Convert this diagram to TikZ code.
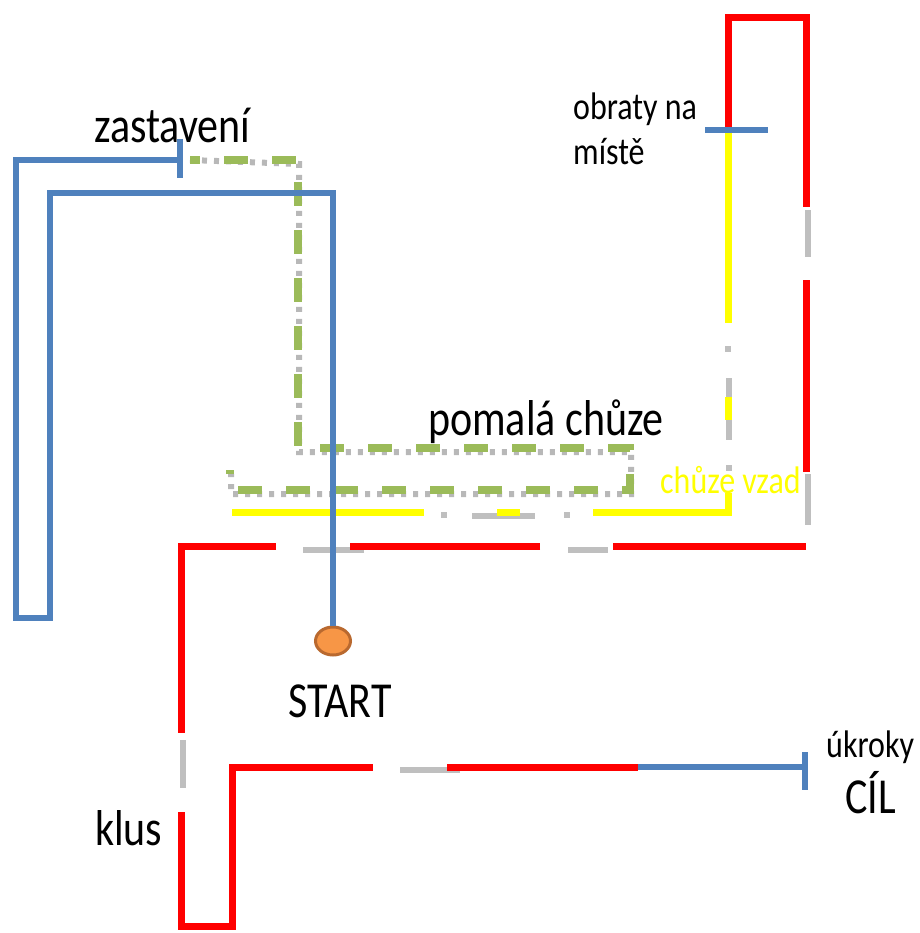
\documentclass[tikz,border=0pt]{standalone}
\usepackage{fontspec}
\setmainfont{Carlito}
\usepackage{graphicx}
\usetikzlibrary{shapes.geometric}
\definecolor{trasablue}{HTML}{4F81BD}
\definecolor{trasagreen}{HTML}{9BBB59}
\definecolor{trasared}{HTML}{FF0000}
\definecolor{trasayellow}{HTML}{FFFF00}
\definecolor{startorange}{HTML}{F79646}
\definecolor{startbrown}{HTML}{B9692F}
\newcommand{\velky}[1]{\scalebox{1}[1.2]{\fontsize{42}{48}\selectfont #1}}
\newcommand{\maly}[1]{\scalebox{1}[1.2]{\fontsize{32}{36}\selectfont #1}}
\tikzset{
	modra/.style={draw=trasablue, line width=6pt},
	cervena/.style={draw=trasared, line width=7pt},
	zluta/.style={draw=trasayellow, line width=7pt},
	zelena/.style={draw=trasagreen, line width=8pt, dash pattern=on 24pt off 24pt, dash phase=14pt},
	stin/.style={draw=black!25, line width=6pt},
	tecky/.style={draw=black!28, line width=6pt, dash pattern=on 5pt off 7pt},
	popis/.style={inner sep=0pt, anchor=base west},
}

\begin{document}
\begin{tikzpicture}[x=1pt, y=-1pt]
	\useasboundingbox (0,0) rectangle (919,933);

	\coordinate (zastT) at (180,160);
	\coordinate (zelenaA) at (190,160);
	\coordinate (zlutaA) at (232,512);
	\coordinate (obratyT) at (728,130);
	\coordinate (klusA) at (638,767);
	\coordinate (cilT) at (805,767);

	\node (start) at (333,641) [ellipse, draw=startbrown, fill=startorange, line width=3pt, minimum width=35pt, minimum height=28pt, inner sep=0pt] {};

	\node[popis] (zastaveni) at (94,143) {\velky{zastavení}};
	\node[popis] (pomala) at (428,435) {\velky{pomalá chůze}};
	\node[popis, text=trasayellow] (vzad) at (660,493) {\maly{chůze vzad}};
	\node[popis] (obraty) at (573,120) {\maly{obraty na}};
	\node[popis] (miste) at (573,165) {\maly{místě}};
	\node[popis] (startlbl) at (288,717) {\velky{START}};
	\node[popis] (ukroky) at (826,757) {\maly{úkroky}};
	\node[popis] (cil) at (845,813) {\velky{CÍL}};
	\node[popis] (klus) at (95,845) {\velky{klus}};

	\draw[stin] (808,210) -- (808,257);
	\draw[stin] (808,474) -- (808,525);
	\draw[stin] (303,550) -- (364,550);
	\draw[stin] (568,550) -- (608,550);
	\draw[stin] (183,740) -- (183,788);
	\draw[stin] (400,770) -- (460,770);
	\draw[stin] (728,346) -- (728,352);
	\draw[stin] (729,378) -- (729,440);
	\draw[stin] (729,465) -- (729,471);
	\draw[stin] (441,515) -- (447,515);
	\draw[stin] (472,516) -- (535,516);
	\draw[stin] (564,515) -- (570,515);

	\draw[tecky, shift={(1,4)}] (zelenaA) -- (298,160) -- (298,448) -- (630,448) -- (630,490) -- (230,490) -- (230,470);
	\draw[zelena] (zelenaA) -- (298,160) -- (298,448) -- (630,448) -- (630,490) -- (230,490) -- (230,470);

	\draw[zluta] (obratyT) -- (728,323);
	\draw[zluta] (728,397) -- (728,420);
	\draw[zluta] (728,493) -- (728,512) -- (593,512);
	\draw[zluta] (520,512) -- (497,512);
	\draw[zluta] (424,512) -- (zlutaA);

	\draw[cervena] (obratyT) -- (728,18) -- (806,18) -- (806,207);
	\draw[cervena] (806,280) -- (806,472);
	\draw[cervena] (806,546) -- (613,546);
	\draw[cervena] (540,546) -- (350,546);
	\draw[cervena] (276,546) -- (181,546) -- (181,733);
	\draw[cervena] (181,812) -- (181,926) -- (232,926) -- (232,767) -- (373,767);
	\draw[cervena] (447,767) -- (klusA);

	\draw[modra] (zastT) -- (16,160) -- (16,618) -- (50,618) -- (50,193) -- (333,193) -- (start);
	\draw[modra] (180,139) -- (180,178);
	\draw[modra] (705,130) -- (768,130);
	\draw[modra] (klusA) -- (cilT);
	\draw[modra] (805,752) -- (805,790);
\end{tikzpicture}
\end{document}
